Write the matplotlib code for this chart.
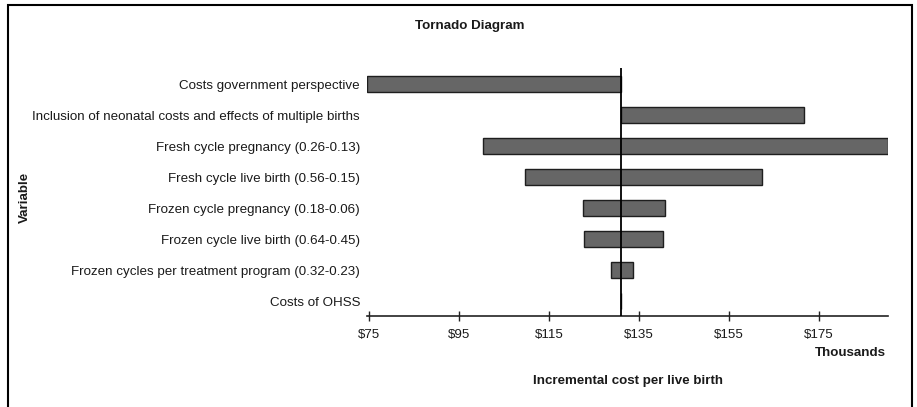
import matplotlib
matplotlib.use("Agg")
from matplotlib import pyplot as plt
from matplotlib.patches import Rectangle

# tornado data, thousands of dollars
variables = [
    "Costs government perspective",
    "Inclusion of neonatal costs and effects of multiple births",
    "Fresh cycle pregnancy (0.26-0.13)",
    "Fresh cycle live birth (0.56-0.15)",
    "Frozen cycle pregnancy (0.18-0.06)",
    "Frozen cycle live birth (0.64-0.45)",
    "Frozen cycles per treatment program (0.32-0.23)",
    "Costs of OHSS",
]
low_values = [74.5, 131.0, 100.3, 109.7, 122.4, 122.7, 128.7, 131.0]
high_values = [131.0, 171.7, 190.2, 162.3, 140.7, 140.4, 133.6, 131.0]
base_value = 131.0
tick_values = [75, 95, 115, 135, 155, 175]
tick_labels = ["$75", "$95", "$115", "$135", "$155", "$175"]

plt.rcParams["font.family"] = ["Liberation Sans", "DejaVu Sans"]
text_color = "#1a1a1a"
fs = 9.6

fig = plt.figure(figsize=(9.17, 4.07), dpi=100)
ax = fig.add_axes([0.4002, 0.2236, 0.9684 - 0.4002, 0.8329 - 0.2236])

rows = list(range(len(variables)))
widths = [h - l for l, h in zip(low_values, high_values)]
ax.barh(rows, widths, left=low_values, height=0.54,
        color="#666666", edgecolor="#1e1e1e", linewidth=1.0, zorder=2)
ax.axvline(base_value, color="black", linewidth=1.3, zorder=3)

ax.set_xlim(74.5, 190.3)
ax.set_ylim(7.48, -0.52)

ax.set_yticks(rows)
ax.set_yticklabels(variables, fontsize=fs, color=text_color)
ax.tick_params(axis="y", length=0, pad=5)

ax.set_xticks(tick_values)
ax.set_xticklabels(tick_labels, fontsize=fs, color=text_color)
ax.tick_params(axis="x", direction="inout", length=7, width=1.0,
               color="#222222", pad=6)

for side in ["top", "right", "left"]:
    ax.spines[side].set_visible(False)
ax.spines["bottom"].set_linewidth(1.2)
ax.spines["bottom"].set_color("#222222")

fig.text(470 / 917, 1 - 26 / 407, "Tornado Diagram", ha="center", va="center",
         fontsize=fs, fontweight="bold", color=text_color)
fig.text(25 / 917, 1 - 197 / 407, "Variable", ha="center", va="center",
         rotation=90, fontsize=fs, fontweight="bold", color=text_color)
fig.text(886 / 917, 1 - 353 / 407, "Thousands", ha="right", va="center",
         fontsize=fs, fontweight="bold", color=text_color)
fig.text(628 / 917, 1 - 381 / 407, "Incremental cost per live birth",
         ha="center", va="center", fontsize=fs, fontweight="bold",
         color=text_color)

# outer frame around the whole picture
fig.patches.append(Rectangle((8 / 917, -0.05), 904 / 917, 1.05 - 5 / 407,
                             transform=fig.transFigure, fill=False,
                             edgecolor="black", linewidth=1.5))

fig.savefig("out.png", dpi=100)
